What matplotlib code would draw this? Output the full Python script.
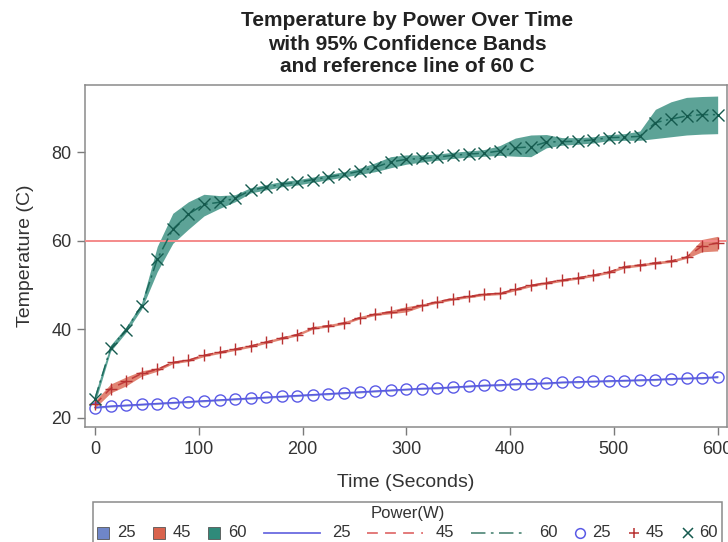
import matplotlib
matplotlib.use('Agg')
import matplotlib.pyplot as plt
from matplotlib.offsetbox import DrawingArea, TextArea, HPacker, VPacker, AnchoredOffsetbox
from matplotlib.patches import Rectangle
from matplotlib.lines import Line2D

plt.rcParams['font.family'] = ['Liberation Sans', 'DejaVu Sans']

# ---------------- data ----------------
time_s = [0, 15, 30, 45, 60, 75, 90, 105, 120, 135, 150, 165, 180, 195, 210,
          225, 240, 255, 270, 285, 300, 315, 330, 345, 360, 375, 390, 405,
          420, 435, 450, 465, 480, 495, 510, 525, 540, 555, 570, 585, 600]

temp_25 = [22.3, 22.6, 22.8, 23.0, 23.2, 23.4, 23.6, 23.8, 24.0, 24.2, 24.4,
           24.6, 24.8, 25.0, 25.2, 25.4, 25.6, 25.8, 26.0, 26.2, 26.4, 26.6,
           26.7, 26.9, 27.1, 27.3, 27.4, 27.6, 27.7, 27.8, 28.0, 28.1, 28.2,
           28.3, 28.4, 28.5, 28.6, 28.8, 28.9, 29.0, 29.2]
lo_25 = [22.1, 22.4, 22.6, 22.8, 23.0, 23.2, 23.4, 23.6, 23.8, 24.0, 24.2,
         24.4, 24.6, 24.8, 25.0, 25.2, 25.4, 25.6, 25.8, 26.0, 26.2, 26.4,
         26.5, 26.7, 26.9, 27.1, 27.2, 27.4, 27.5, 27.6, 27.8, 27.9, 28.0,
         28.1, 28.2, 28.3, 28.4, 28.6, 28.7, 28.8, 29.0]
hi_25 = [22.5, 22.8, 23.0, 23.2, 23.4, 23.6, 23.8, 24.0, 24.2, 24.4, 24.6,
         24.8, 25.0, 25.2, 25.4, 25.6, 25.8, 26.0, 26.2, 26.4, 26.6, 26.8,
         26.9, 27.1, 27.3, 27.5, 27.6, 27.8, 27.9, 28.0, 28.2, 28.3, 28.4,
         28.5, 28.6, 28.7, 28.8, 29.0, 29.1, 29.2, 29.4]

temp_45 = [23.0, 26.6, 28.2, 30.0, 30.9, 32.5, 33.0, 34.1, 34.8, 35.5, 36.2,
           37.1, 38.0, 38.8, 40.3, 40.8, 41.4, 42.6, 43.4, 43.9, 44.5, 45.4,
           46.2, 46.9, 47.4, 47.9, 48.1, 49.0, 49.9, 50.5, 51.1, 51.6, 52.2,
           52.9, 54.1, 54.5, 55.0, 55.4, 56.3, 58.8, 59.5]
lo_45 = [22.2, 25.6, 27.2, 29.4, 30.5, 32.2, 32.7, 33.8, 34.5, 35.2, 35.9,
         36.8, 37.7, 38.5, 40.0, 40.5, 41.1, 42.3, 43.1, 43.5, 43.9, 45.1,
         45.9, 46.6, 47.1, 47.6, 47.8, 48.7, 49.6, 50.2, 50.8, 51.3, 51.9,
         52.6, 53.8, 54.2, 54.7, 55.1, 56.0, 57.5, 57.7]
hi_45 = [23.8, 27.6, 29.2, 30.6, 31.3, 32.8, 33.3, 34.4, 35.1, 35.8, 36.5,
         37.4, 38.3, 39.1, 40.6, 41.1, 41.7, 42.9, 43.7, 44.3, 45.1, 45.7,
         46.5, 47.2, 47.7, 48.2, 48.4, 49.3, 50.2, 50.8, 51.4, 51.9, 52.5,
         53.2, 54.4, 54.8, 55.3, 55.7, 56.6, 60.3, 61.0]

temp_60 = [24.3, 35.7, 39.9, 45.3, 55.8, 62.6, 66.0, 68.2, 68.7, 69.6, 71.4,
           72.1, 72.8, 73.2, 73.8, 74.4, 75.0, 75.7, 76.6, 77.8, 78.4, 78.6,
           78.9, 79.3, 79.6, 79.8, 80.3, 81.0, 81.2, 82.3, 82.4, 82.5, 82.8,
           83.3, 83.4, 83.6, 86.7, 87.5, 88.2, 88.5, 88.5]
lo_60 = [23.3, 35.0, 39.3, 44.6, 53.0, 59.4, 62.6, 65.6, 67.3, 68.8, 70.8,
         71.5, 72.2, 72.6, 73.2, 73.8, 74.4, 75.0, 75.6, 76.5, 77.3, 77.8,
         78.2, 78.6, 78.9, 79.1, 79.3, 79.1, 79.0, 81.0, 81.6, 81.8, 82.1,
         82.6, 82.7, 82.7, 83.1, 83.5, 83.9, 84.1, 84.2]
hi_60 = [25.3, 36.4, 40.5, 46.0, 58.7, 66.2, 68.8, 70.5, 70.2, 70.4, 72.0,
         72.7, 73.4, 73.8, 74.4, 75.0, 75.6, 76.4, 77.6, 79.0, 79.4, 79.4,
         79.6, 80.0, 80.3, 80.6, 81.5, 83.2, 83.9, 84.0, 83.3, 83.3, 83.5,
         84.0, 84.2, 84.8, 89.7, 91.4, 92.4, 92.6, 92.7]

ref_temp = 60
power_labels = ['25', '45', '60']
x_ticks = [0, 100, 200, 300, 400, 500, 600]
y_ticks = [20, 40, 60, 80]

# ---------------- styles ----------------
band_colors = ['#6f86c8', '#d9634d', '#2f8a7a']
line_colors = ['#5a5ae0', '#c03a3a', '#1d6b5d']
legend_line_colors = ['#6b6be0', '#e07070', '#5a8f80']
marker_colors = ['#5a5ae6', '#b83232', '#155a4e']
line_styles = ['-', (0, (6, 4)), (0, (8, 3, 1.5, 3))]
markers = ['o', '+', 'x']

W, H = 728, 542
fig = plt.figure(figsize=(W / 100, H / 100), dpi=100)
ax = fig.add_axes([85 / W, 1 - 427 / H, (727 - 85) / W, (427 - 85) / H])

series = [(temp_25, lo_25, hi_25), (temp_45, lo_45, hi_45), (temp_60, lo_60, hi_60)]
for i, (y, lo, hi) in enumerate(series):
    ax.fill_between(time_s, lo, hi, color=band_colors[i], alpha=0.78, lw=0, zorder=2)

ax.axhline(ref_temp, color='#f48a8a', lw=1.4, zorder=3)

for i, (y, lo, hi) in enumerate(series):
    ax.plot(time_s, y, color=line_colors[i], lw=1.1, linestyle=line_styles[i], zorder=4)
    ax.plot(time_s, y, linestyle='none', marker=markers[i], ms=8 if i != 1 else 9,
            mfc='none', mec=marker_colors[i], mew=1.0, zorder=5)

ax.set_xlim(-9.6, 609)
ax.set_ylim(17.9, 95.2)
ax.set_xticks(x_ticks)
ax.set_yticks(y_ticks)
ax.tick_params(direction='out', length=5.8, width=1, color='#7a7a7a',
               labelsize=13, labelcolor='#333333', pad=4)
for sp in ax.spines.values():
    sp.set_color('#8a8a8a')
    sp.set_linewidth(1.1)

ax.set_xlabel('Time (Seconds)', fontsize=14, color='#333333', labelpad=12)
ax.set_ylabel('Temperature (C)', fontsize=14, color='#333333', labelpad=12)

# title
for txt, ypx in [('Temperature by Power Over Time', 21),
                 ('with 95% Confidence Bands', 44),
                 ('and reference line of 60 C', 67)]:
    fig.text(407 / W, 1 - ypx / H, txt, ha='center', va='center',
             fontsize=15, fontweight='bold', color='#222222')

# legend built from offset boxes
PT = 0.72  # px -> pt at 100 dpi
fs = 12
entries = []

def text_area(s):
    return TextArea(s, textprops=dict(fontsize=fs, color='#333333'))

for i, lab in enumerate(power_labels):
    da = DrawingArea(12 * PT, 12 * PT, 0, 0)
    da.add_artist(Rectangle((0, 0), 12 * PT, 12 * PT, facecolor=band_colors[i],
                            edgecolor='#555555', lw=0.6))
    entries.append(HPacker(children=[da, text_area(lab)], sep=8 * PT, align='center'))
for i, lab in enumerate(power_labels):
    da = DrawingArea(56 * PT, 12 * PT, 0, 0)
    da.add_artist(Line2D([0, 56 * PT], [6 * PT, 6 * PT], color=legend_line_colors[i],
                         lw=1.3, linestyle=line_styles[i]))
    entries.append(HPacker(children=[da, text_area(lab)], sep=12 * PT, align='center'))
for i, lab in enumerate(power_labels):
    da = DrawingArea(12 * PT, 12 * PT, 0, 0)
    da.add_artist(Line2D([6 * PT], [6 * PT], linestyle='none', marker=markers[i],
                         ms=7, mfc='none', mec=marker_colors[i], mew=1.1))
    entries.append(HPacker(children=[da, text_area(lab)], sep=6 * PT, align='center'))

row = HPacker(children=entries, sep=17 * PT, align='center')
title = TextArea('Power(W)', textprops=dict(fontsize=fs, color='#333333'))
box = VPacker(children=[title, row], sep=4 * PT, align='center')
anch = AnchoredOffsetbox(loc='upper left', child=box, pad=0.3, borderpad=0,
                         frameon=True, bbox_to_anchor=(93 / W, 1 - 502 / H),
                         bbox_transform=fig.transFigure)
anch.patch.set_edgecolor('#8a8a8a')
anch.patch.set_linewidth(1.1)
anch.patch.set_boxstyle('square', pad=0)
fig.add_artist(anch)

fig.savefig('out.png', dpi=100)
